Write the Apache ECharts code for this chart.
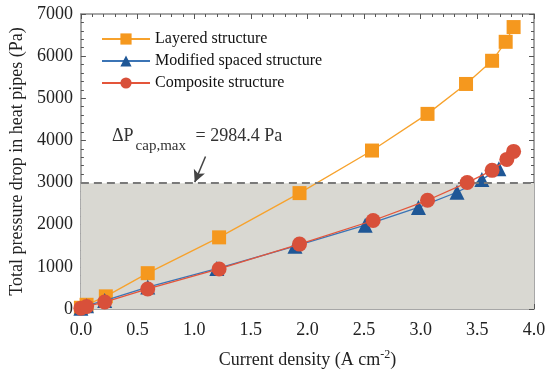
<!DOCTYPE html>
<html>
<head>
<meta charset="utf-8">
<script src="https://cdn.jsdelivr.net/npm/echarts@6/dist/echarts.min.js"></script>
<style>html,body{margin:0;padding:0;background:#fff}#c{width:550px;height:374px}</style>
</head>
<body>
<div id="c"></div>
<script>
var layeredX = [0.0, 0.05, 0.22, 0.59, 1.22, 1.93, 2.57, 3.06, 3.40, 3.63, 3.75, 3.82];
var layeredY = [30, 100, 300, 850, 1700, 2750, 3760, 4630, 5340, 5890, 6340, 6690];
var modifiedX = [0.0, 0.05, 0.21, 0.59, 1.20, 1.89, 2.51, 2.98, 3.32, 3.54, 3.69];
var modifiedY = [20, 80, 200, 520, 960, 1490, 1990, 2410, 2770, 3070, 3330];
var compositeX = [0.0, 0.05, 0.21, 0.59, 1.22, 1.93, 2.58, 3.06, 3.41, 3.63, 3.76, 3.82];
var compositeY = [20, 60, 165, 475, 950, 1540, 2100, 2580, 3000, 3290, 3550, 3740];
var capMax = 2984.4;
var xTicks = ['0.0','0.5','1.0','1.5','2.0','2.5','3.0','3.5','4.0'];
var yTicks = ['0','1000','2000','3000','4000','5000','6000','7000'];

function pairs(xs, ys){ return xs.map(function(x,i){ return [x, ys[i]]; }); }
var FONT = 'Liberation Serif';
var axisColor = '#8a8a8a';

var chart = echarts.init(document.getElementById('c'), null, {renderer:'canvas'});
function baseX(show){
  return {
    type:'value', min:0, max:4, interval:0.5,
    position: show ? 'bottom' : 'top',
    axisLine:{show:true, onZero:false, lineStyle:{color:axisColor, width:1.5}},
    axisTick:{show:true, inside:true, length:5, lineStyle:{color:'#555', width:1}},
    minorTick:{show:true, splitNumber:5, length:3, lineStyle:{color:'#555', width:1}},
    splitLine:{show:false},
    axisLabel:{show:show, color:'#222', fontFamily:FONT, fontSize:18, margin:12,
      formatter:function(v){ return xTicks[Math.round(v/0.5)]; }},
    name: show ? 'Current density (A cm{s|-2})' : '',
    nameLocation:'middle', nameGap:40,
    nameTextStyle:{color:'#222', fontFamily:FONT, fontSize:18,
      rich:{s:{fontSize:12, fontFamily:FONT, color:'#222', padding:[0,0,10,0]}}}
  };
}
function baseY(show){
  return {
    type:'value', min:0, max:7000, interval:1000,
    position: show ? 'left' : 'right',
    axisLine:{show:true, onZero:false, lineStyle:{color:axisColor, width:1.5}},
    axisTick:{show:true, inside:true, length:5, lineStyle:{color:'#555', width:1}},
    minorTick:{show:true, splitNumber:5, length:3, lineStyle:{color:'#555', width:1}},
    splitLine:{show:false},
    axisLabel:{show:show, color:'#222', fontFamily:FONT, fontSize:18, margin:8,
      formatter:function(v){ return yTicks[Math.round(v/1000)]; }},
    name: show ? 'Total pressure drop in heat pipes (Pa)' : '',
    nameLocation:'middle', nameGap:52, nameRotate:90,
    nameTextStyle:{color:'#222', fontFamily:FONT, fontSize:18}
  };
}

chart.setOption({
  animation:false,
  backgroundColor:'#fff',
  grid:{left:76, right:16, top:14, bottom:63},
  xAxis:[baseX(true), baseX(false)],
  yAxis:[baseY(true), baseY(false)],
  legend:{
    orient:'vertical', left:96, top:26, itemWidth:48, itemHeight:14, itemGap:6,
    textStyle:{fontFamily:FONT, fontSize:16, color:'#111'},
    data:['Layered structure','Modified spaced structure','Composite structure']
  },
  graphic:[{
    type:'text', left:112, top:127,
    style:{
      text:'{a|ΔP}{b|cap,max}{a| = 2984.4 Pa}',
      rich:{
        a:{fontFamily:FONT, fontSize:18, fill:'#333', lineHeight:22, verticalAlign:'top'},
        b:{fontFamily:FONT, fontSize:15, fill:'#333', lineHeight:22, verticalAlign:'top', padding:[12,5,0,2]}
      }
    }
  }],
  series:[
    {
      name:'Layered structure', type:'line', data:pairs(layeredX, layeredY),
      symbol:'rect', symbolSize:14, clip:false, z:3,
      lineStyle:{color:'#f7a22c', width:1.3},
      itemStyle:{color:'#f5981e'},
      markArea:{silent:true, itemStyle:{color:'#d9d8d2'},
        data:[[{yAxis:0},{yAxis:capMax}]]},
      markLine:{silent:true, symbol:['none','none'], label:{show:false},
        lineStyle:{color:'#7a7a7a', width:2, type:[8,5]},
        data:[{yAxis:capMax},
          [{coord:[1.10,3620], symbol:'none', lineStyle:{color:'#444', width:1.5, type:'solid'}},
           {coord:[1.005,3010], symbol:'arrow', symbolSize:[9,12], lineStyle:{color:'#444', width:1.5, type:'solid'}}]
        ]}
    },
    {
      name:'Modified spaced structure', type:'line', data:pairs(modifiedX, modifiedY),
      symbol:'triangle', symbolSize:15, clip:false, z:4,
      lineStyle:{color:'#3b74b5', width:1.3},
      itemStyle:{color:'#1f5796'}
    },
    {
      name:'Composite structure', type:'line', data:pairs(compositeX, compositeY),
      symbol:'circle', symbolSize:15, clip:false, z:5,
      lineStyle:{color:'#e4553a', width:1.3},
      itemStyle:{color:'#d8503a'}
    }
  ]
});
</script>
</body>
</html>
